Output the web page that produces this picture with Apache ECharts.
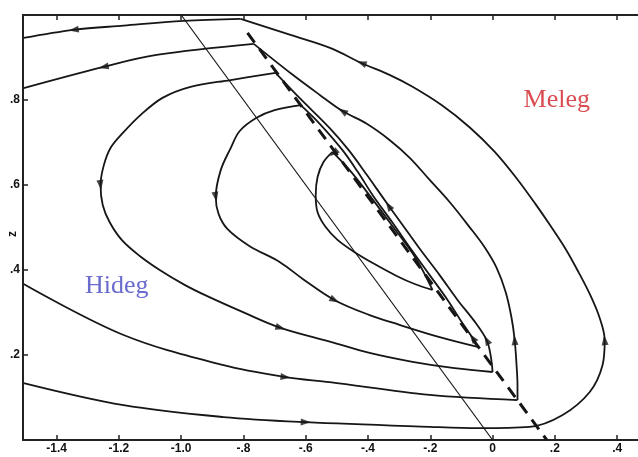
<!DOCTYPE html>
<html>
<head>
<meta charset="utf-8">
<script src="https://cdn.jsdelivr.net/npm/echarts@6/dist/echarts.min.js"></script>
<style>
html,body{margin:0;padding:0;background:#fff;}
#chart{width:638px;height:457px;}
</style>
</head>
<body>
<div id="chart"></div>
<script>
// ---- axis ticks ----
const xTickValues = [-1.4, -1.2, -1.0, -0.8, -0.6, -0.4, -0.2, 0, 0.2, 0.4];
const xTickLabels = ['-1.4', '-1.2', '-1.0', '-.8', '-.6', '-.4', '-.2', '0', '.2', '.4'];
const yTickValues = [0.2, 0.4, 0.6, 0.8];
const yTickLabels = ['.2', '.4', '.6', '.8'];
const yAxisTitle = 'z';

// ---- trajectories (x, z) ----
const trajA1 = [[-1.506,0.134],[-1.185,0.082],[-0.864,0.054],[-0.600,0.042],[-0.202,0.031],[-0.042,0.028],[0.119,0.031],[0.225,0.059],[0.312,0.113],[0.353,0.176],[0.360,0.235],[0.344,0.287],[0.315,0.339],[0.276,0.395],[0.235,0.449],[0.186,0.504],[0.138,0.555],[0.077,0.616],[0.007,0.678],[-0.074,0.736],[-0.164,0.788],[-0.257,0.831],[-0.331,0.859],[-0.421,0.887],[-0.520,0.922],[-0.649,0.953],[-0.809,0.991]];
const trajA2 = [[-0.809,0.991],[-0.992,0.986],[-1.185,0.975],[-1.345,0.965],[-1.506,0.946]];

const trajB1 = [[-1.506,0.367],[-1.185,0.247],[-0.864,0.176],[-0.665,0.148],[-0.523,0.136],[-0.202,0.106],[0.080,0.094]];
const trajB2 = [[0.080,0.094],[0.080,0.129],[0.077,0.176],[0.071,0.235],[0.061,0.287],[0.042,0.348],[0.013,0.405],[-0.026,0.454],[-0.074,0.501],[-0.138,0.560],[-0.202,0.612],[-0.266,0.664],[-0.331,0.706],[-0.404,0.744],[-0.482,0.774],[-0.555,0.812],[-0.645,0.861],[-0.767,0.932]];
const trajB3 = [[-0.767,0.932],[-1.079,0.906],[-1.249,0.878],[-1.506,0.828]];

const trajC1 = [[-0.697,0.864],[-0.841,0.847],[-0.970,0.831],[-1.060,0.805],[-1.130,0.765],[-1.188,0.722],[-1.227,0.687],[-1.249,0.645],[-1.259,0.600],[-1.252,0.553],[-1.230,0.513],[-1.191,0.471],[-1.133,0.433],[-1.069,0.400],[-0.989,0.365],[-0.918,0.339],[-0.796,0.299],[-0.681,0.264],[-0.520,0.231],[-0.395,0.205],[-0.257,0.184],[-0.122,0.169],[0.000,0.160]];
const trajC2 = [[0.000,0.160],[-0.006,0.198],[-0.019,0.235],[-0.061,0.282],[-0.112,0.329],[-0.170,0.388],[-0.231,0.447],[-0.289,0.506],[-0.347,0.565],[-0.404,0.624],[-0.462,0.682],[-0.523,0.734],[-0.620,0.805],[-0.697,0.864]];

const trajD1 = [[-0.616,0.788],[-0.700,0.776],[-0.758,0.758],[-0.812,0.727],[-0.841,0.687],[-0.873,0.635],[-0.889,0.572],[-0.880,0.532],[-0.851,0.496],[-0.780,0.456],[-0.684,0.419],[-0.604,0.376],[-0.507,0.329],[-0.395,0.294],[-0.299,0.271],[-0.170,0.242],[-0.048,0.219]];
const trajD2 = [[-0.048,0.219],[-0.064,0.240],[-0.103,0.282],[-0.144,0.329],[-0.202,0.388],[-0.260,0.447],[-0.321,0.511],[-0.385,0.576],[-0.433,0.631],[-0.482,0.682],[-0.555,0.744],[-0.616,0.788]];

const trajE1 = [[-0.514,0.678],[-0.543,0.654],[-0.562,0.619],[-0.568,0.576],[-0.562,0.536],[-0.536,0.501],[-0.498,0.471],[-0.443,0.442],[-0.379,0.414],[-0.308,0.386],[-0.250,0.367],[-0.193,0.353]];
const trajE2 = [[-0.193,0.353],[-0.247,0.428],[-0.324,0.506],[-0.408,0.588],[-0.459,0.635],[-0.514,0.678]];

// straight reference lines
const thinLine = [[-1.0,1.0],[0.0,0.0]];
const dashedLine = [[-0.787,0.958],[0.174,0.0]];

// arrows: [x, z, xNext, zNext] (flow direction)
const arrows = [
  [-0.600,0.042,-0.523,0.040],[0.360,0.235,0.357,0.259],[-0.421,0.887,-0.491,0.906],[-1.345,0.965,-1.390,0.960],
  [-0.665,0.148,-0.620,0.144],[0.071,0.235,0.068,0.264],[-0.482,0.774,-0.523,0.793],[-1.249,0.878,-1.294,0.871],
  [-1.259,0.600,-1.255,0.576],[-0.681,0.264,-0.636,0.254],[-0.019,0.235,-0.030,0.250],[-0.334,0.551,-0.353,0.572],
  [-0.889,0.572,-0.883,0.548],[-0.507,0.329,-0.469,0.315],[-0.064,0.240,-0.080,0.256],
  [-0.510,0.675,-0.536,0.659]
];

// region labels
const regionLabels = [
  {name: 'Meleg', value: [0.206, 0.80]},
  {name: 'Hideg', value: [-1.207, 0.362]}
];
const regionColors = {Meleg: '#d01f26', Hideg: '#4446c0'};

const chart = echarts.init(document.getElementById('chart'), null, {renderer: 'canvas'});
const XMIN = -1.508, XMAX = 0.467, YMIN = 0, YMAX = 1.0;
const ink = '#161616';

function lbl(values, labels) {
  return function (v) {
    const i = values.findIndex(t => Math.abs(t - v) < 1e-6);
    return i >= 0 ? labels[i] : '';
  };
}

const trajs = [trajA1, trajA2, trajB1, trajB2, trajB3, trajC1, trajC2, trajD1, trajD2, trajE1, trajE2];
const series = trajs.map(d => ({
  type: 'line', data: d, showSymbol: false, smooth: 0.35, silent: true,
  lineStyle: {color: ink, width: 1.8}, z: 3
}));
series.push({type: 'line', data: thinLine, showSymbol: false, silent: true,
  lineStyle: {color: ink, width: 1.2}, z: 2});
series.push({type: 'line', data: dashedLine, showSymbol: false, silent: true,
  lineStyle: {color: ink, width: 3, type: [12, 8]}, z: 2});
series.push({type: 'scatter', id: 'arrows', data: arrows.map(a => [a[0], a[1]]),
  symbol: 'triangle', symbolSize: [7, 10], itemStyle: {color: ink}, silent: true, z: 5});
series.push({type: 'scatter', data: regionLabels.map(r => ({name: r.name, value: r.value,
    label: {color: regionColors[r.name]}})),
  symbolSize: 0, silent: true, z: 6,
  label: {show: true, position: 'inside', formatter: p => p.name,
    fontFamily: 'Liberation Serif', fontSize: 26}});

chart.setOption({
  animation: false,
  backgroundColor: '#fff',
  grid: {left: 23, right: 0, top: 15, bottom: 17, containLabel: false},
  xAxis: [{
    type: 'value', min: XMIN, max: XMAX, position: 'bottom',
    axisLine: {show: true, onZero: false, lineStyle: {color: '#222', width: 2}},
    axisTick: {show: true, inside: true, length: 5, customValues: xTickValues, lineStyle: {color: '#222', width: 1.5}},
    axisLabel: {show: true, customValues: xTickValues, formatter: lbl(xTickValues, xTickLabels),
      margin: 3, color: '#111', fontFamily: 'Liberation Sans', fontWeight: 'bold', fontSize: 12},
    splitLine: {show: false}
  }, {
    type: 'value', min: XMIN, max: XMAX, position: 'top',
    axisLine: {show: true, onZero: false, lineStyle: {color: '#222', width: 2}},
    axisTick: {show: true, inside: true, length: 5, customValues: xTickValues, lineStyle: {color: '#222', width: 1.5}},
    axisLabel: {show: false},
    splitLine: {show: false}
  }],
  yAxis: {
    type: 'value', min: YMIN, max: YMAX,
    axisLine: {show: true, onZero: false, lineStyle: {color: '#222', width: 2}},
    axisTick: {show: true, inside: true, length: 5, customValues: yTickValues, lineStyle: {color: '#222', width: 1.5}},
    axisLabel: {show: true, customValues: yTickValues, formatter: lbl(yTickValues, yTickLabels),
      margin: 3, color: '#111', fontFamily: 'Liberation Sans', fontWeight: 'bold', fontSize: 12},
    splitLine: {show: false}
  },
  graphic: [{
    type: 'text', left: 7, top: 231, rotation: Math.PI / 2,
    style: {text: yAxisTitle, fill: '#111', font: 'bold 12px "Liberation Sans"'}
  }],
  series: series
});

// orient arrows along flow direction in pixel space
const arrowData = arrows.map(a => {
  const p0 = chart.convertToPixel({xAxisIndex: 0, yAxisIndex: 0}, [a[0], a[1]]);
  const p1 = chart.convertToPixel({xAxisIndex: 0, yAxisIndex: 0}, [a[2], a[3]]);
  const ang = Math.atan2(-(p1[1] - p0[1]), p1[0] - p0[0]) * 180 / Math.PI;
  return {value: [a[0], a[1]], symbolRotate: ang - 90};
});
chart.setOption({series: [{id: 'arrows', data: arrowData}]});
</script>
</body>
</html>
